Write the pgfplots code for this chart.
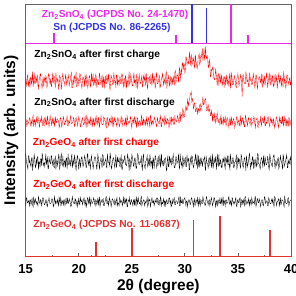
\documentclass[border=0pt]{standalone}
\usepackage{fontspec}
\setmainfont{Liberation Sans}
\usepackage{pgfplots}
\usepackage{pgfplotstable}
\pgfplotsset{compat=1.18}

\definecolor{refmag}{RGB}{235,40,235}
\definecolor{refblue}{RGB}{50,50,235}
\definecolor{refred}{RGB}{225,50,50}
\definecolor{framegray}{RGB}{100,100,100}
\newcommand\lab{\fontsize{10.2}{11}\selectfont\bfseries}

% XRD scans, offset for stacking:
% a = Zn2SnO4 after first charge, b = Zn2SnO4 after first discharge,
% c = Zn2GeO4 after first charge,  d = Zn2GeO4 after first discharge
\pgfplotstableread{
x a b c d
15.00 179 134 103 51
15.05 174 131 97 58
15.10 171 137 93 59
15.15 180 136 91 54
15.20 182 132 88 54
15.25 170 134 101 56
15.30 174 135 101 55
15.35 177 139 94 51
15.40 169 139 96 57
15.45 179 132 92 57
15.50 180 130 90 52
15.55 172 136 99 54
15.60 177 133 99 59
15.65 185 139 86 52
15.70 170 141 92 50
15.75 175 130 96 59
15.80 184 136 102 56
15.85 173 137 98 53
15.90 173 131 89 58
15.95 181 134 90 56
16.00 175 139 97 53
16.05 178 135 93 55
16.10 181 134 100 53
16.15 171 140 100 51
16.20 168 138 87 60
16.25 176 133 95 57
16.30 178 129 95 54
16.35 182 138 89 53
16.40 183 136 98 57
16.45 173 134 98 56
16.50 172 140 91 51
16.55 168 136 103 54
16.60 176 131 101 59
16.65 180 131 91 59
16.70 170 137 93 56
16.75 177 139 94 52
16.80 179 132 90 52
16.85 174 136 97 54
16.90 181 139 103 57
16.95 179 132 92 57
17.00 169 134 96 51
17.05 172 141 99 50
17.10 177 136 88 56
17.15 183 134 88 56
17.20 182 130 99 59
17.25 175 136 96 54
17.30 173 141 94 53
17.35 178 137 93 53
17.40 171 135 101 54
17.45 170 131 101 58
17.50 184 139 92 58
17.55 176 135 95 55
17.60 174 133 97 50
17.65 181 139 90 51
17.70 180 131 89 60
17.75 173 133 98 57
17.80 170 140 100 53
17.85 184 134 87 56
17.90 176 134 95 55
17.95 174 138 97 53
18.00 178 138 91 57
18.05 177 136 94 54
18.10 168 136 102 51
18.15 171 129 100 60
18.20 181 131 87 56
18.25 179 139 92 52
18.30 179 139 98 59
18.35 167 135 104 55
18.40 172 129 93 52
18.45 180 134 91 56
18.50 183 136 101 56
18.55 178 140 93 51
18.60 175 137 90 57
18.65 175 132 96 57
18.70 170 132 96 51
18.75 182 136 89 54
18.80 180 135 99 59
18.85 172 137 99 53
18.90 174 141 88 54
18.95 176 131 95 59
19.00 182 131 103 53
19.05 179 136 92 54
19.10 171 134 92 58
19.15 174 134 97 56
19.20 177 139 94 54
19.25 181 141 90 50
19.30 184 133 100 51
19.35 169 133 102 57
19.40 169 134 89 60
19.45 177 135 94 55
19.50 173 139 97 55
19.55 180 138 91 53
19.60 181 130 102 53
19.65 173 131 98 58
19.70 178 138 91 57
19.75 185 139 86 51
19.80 170 136 95 56
19.85 171 134 100 56
19.90 179 131 101 50
19.95 178 136 93 54
20.00 172 140 87 59
20.05 175 137 96 53
20.10 183 136 98 52
20.15 182 130 89 59
20.20 174 131 93 56
20.25 172 135 99 55
20.30 168 137 100 57
20.35 176 139 95 52
20.40 180 135 90 54
20.45 179 132 92 57
20.50 176 132 96 59
20.55 170 136 101 54
20.60 182 141 99 51
20.65 178 134 93 56
20.70 171 129 89 53
20.75 181 141 90 50
20.80 178 139 103 58
20.85 168 131 103 59
20.90 173 134 92 55
20.95 177 137 94 53
21.00 181 133 97 60
21.05 180 136 91 54
21.10 170 139 88 51
21.15 173 131 98 58
21.20 184 136 101 56
21.25 176 138 95 53
21.30 175 130 94 54
21.35 183 135 88 55
21.40 172 138 91 59
21.45 174 133 97 57
21.50 179 131 100 53
21.55 171 139 100 51
21.60 183 136 98 57
21.65 179 134 92 56
21.70 169 140 87 52
21.75 177 136 94 54
21.80 177 131 102 59
21.85 172 139 99 52
21.90 174 137 93 56
21.95 184 129 87 60
22.00 180 134 95 50
22.05 175 137 96 53
22.10 171 141 99 57
22.15 178 135 93 55
22.20 182 132 89 54
22.25 169 132 102 57
22.30 176 133 101 58
22.35 180 140 91 51
22.40 168 139 92 51
22.45 176 136 95 54
22.50 181 136 96 56
22.55 173 131 98 59
22.60 173 129 90 60
22.65 182 138 89 53
22.70 178 139 103 53
22.75 174 133 97 57
22.80 183 131 94 51
22.85 177 136 94 54
22.90 170 138 91 59
22.95 167 134 104 56
23.00 175 135 100 55
23.05 181 141 90 50
23.10 179 134 88 53
23.15 178 131 93 58
23.20 172 140 97 57
23.25 172 134 99 56
23.30 184 131 98 54
23.35 179 139 92 52
23.40 174 137 89 57
23.45 175 135 96 55
23.50 169 136 102 52
23.55 182 132 89 57
23.60 182 130 93 59
23.65 171 139 100 51
23.70 177 139 95 54
23.75 176 137 95 53
23.80 171 132 99 51
23.85 180 130 91 59
23.90 180 134 90 57
23.95 173 136 98 54
24.00 173 141 101 56
24.05 183 134 88 56
24.10 183 131 87 51
24.15 174 138 97 53
24.20 170 136 96 60
24.25 177 136 94 54
24.30 178 133 100 53
24.35 170 131 101 59
24.40 181 139 92 54
24.45 179 134 92 56
24.50 168 131 91 58
24.55 176 141 95 50
24.60 176 138 103 50
24.65 172 133 99 57
24.70 179 135 93 56
24.75 185 135 86 55
24.80 172 134 98 59
24.85 175 139 96 52
24.90 182 140 89 53
24.95 178 132 93 57
25.00 174 129 102 55
25.05 171 136 100 54
25.10 171 137 96 51
25.15 180 134 91 56
25.20 184 139 90 57
25.25 173 140 98 51
25.30 177 132 99 58
25.35 177 137 94 53
25.40 169 134 88 51
25.45 182 129 89 60
25.50 180 139 97 56
25.55 168 138 103 53
25.60 175 130 101 59
25.65 178 134 93 56
25.70 182 136 92 53
25.75 176 136 95 54
25.80 173 133 94 52
25.85 174 131 97 58
25.90 178 141 100 60
25.95 181 139 90 51
26.00 170 131 87 54
26.05 172 135 99 55
26.10 181 138 103 57
26.15 179 133 92 57
26.20 176 136 91 51
26.25 183 137 88 53
26.30 172 131 95 55
26.35 175 136 96 54
26.40 183 139 98 56
26.45 170 131 101 59
26.50 168 134 89 50
26.55 178 139 93 52
26.60 179 137 97 58
26.65 180 134 91 56
26.70 174 129 102 57
26.75 173 141 98 50
26.80 182 139 90 53
26.85 176 132 95 57
26.90 171 135 96 59
26.95 184 136 87 54
27.00 177 132 99 54
27.05 174 134 97 56
27.10 180 140 88 51
27.15 177 138 94 53
27.20 169 136 101 57
27.25 171 135 100 55
27.30 184 131 93 54
27.35 182 130 89 59
27.40 173 139 92 59
27.45 173 137 98 53
27.50 175 134 100 52
27.55 179 133 92 57
27.60 181 133 94 56
27.65 169 139 102 51
27.70 170 141 89 60
27.75 176 131 95 58
27.80 178 130 103 51
27.85 180 136 91 54
27.90 183 138 95 53
27.95 175 134 96 56
28.00 172 136 91 58
28.05 178 141 93 50
28.10 176 131 98 56
28.15 172 135 99 55
28.20 182 139 97 51
28.25 185 133 86 57
28.30 168 134 87 57
28.35 174 138 97 53
28.40 179 137 101 53
28.45 181 136 90 54
28.50 174 129 90 59
28.55 170 131 101 59
28.60 181 140 96 54
28.65 177 134 94 56
28.70 171 132 99 50
28.75 179 140 92 51
28.80 177 135 93 57
28.85 173 137 98 53
28.90 180 139 102 55
28.95 177 132 95 57
29.00 171 132 89 59
29.05 184 140 89 52
29.10 186 137 92 52
29.15 174 136 100 56
29.20 176 135 100 56
29.25 182 137 93 55
29.30 182 141 95 53
29.35 180 139 96 54
29.40 174 137 103 58
29.45 186 133 91 60
29.50 189 142 88 51
29.55 176 144 103 51
29.60 183 135 97 60
29.65 188 142 92 54
29.70 182 142 94 54
29.75 194 140 88 57
29.80 193 148 101 53
29.85 187 146 97 53
29.90 193 139 91 57
29.95 192 140 94 58
30.00 183 144 98 59
30.05 188 147 99 54
30.10 200 151 90 51
30.15 199 147 90 56
30.20 192 146 102 56
30.25 195 157 95 50
30.30 195 154 96 54
30.35 193 151 98 57
30.40 200 156 87 57
30.45 205 158 87 55
30.50 191 162 99 52
30.55 196 163 96 53
30.60 203 165 93 59
30.65 191 155 101 59
30.70 193 158 100 55
30.75 198 156 93 54
30.80 196 148 89 50
30.85 199 150 91 56
30.90 189 154 97 58
30.95 192 153 97 51
31.00 202 145 103 53
31.05 195 145 94 57
31.10 193 149 92 56
31.15 188 149 102 53
31.20 191 142 88 59
31.25 199 147 92 55
31.30 201 148 101 51
31.35 203 144 89 58
31.40 191 152 95 54
31.45 195 153 99 51
31.50 201 145 91 57
31.55 200 150 95 56
31.60 204 151 98 53
31.65 207 155 90 53
31.70 196 160 94 60
31.75 200 152 97 57
31.80 209 152 98 54
31.85 197 156 100 54
31.90 199 157 90 51
31.95 210 158 86 52
32.00 200 152 101 59
32.05 198 146 96 60
32.10 201 146 93 56
32.15 198 150 93 54
32.20 189 152 88 52
32.25 190 145 98 56
32.30 197 146 99 57
32.35 194 148 91 51
32.40 180 141 96 53
32.45 181 141 101 57
32.50 187 146 89 59
32.55 186 142 94 55
32.60 189 135 103 51
32.65 190 144 88 53
32.70 179 140 92 56
32.75 178 135 99 59
32.80 177 143 94 58
32.85 181 140 95 54
32.90 188 134 100 50
32.95 183 137 92 56
33.00 177 141 87 55
33.05 171 144 103 50
33.10 181 136 97 57
33.15 183 134 90 57
33.20 171 138 102 53
33.25 179 138 93 54
33.30 183 131 91 59
33.35 174 138 97 53
33.40 177 141 95 54
33.45 182 132 89 58
33.50 171 137 89 52
33.55 173 134 98 56
33.60 180 132 98 60
33.65 176 140 95 51
33.70 169 134 100 56
33.75 180 135 91 55
33.80 178 141 88 51
33.85 171 133 100 57
33.90 182 131 96 57
33.95 177 138 94 53
34.00 173 139 101 54
34.05 179 136 92 54
34.10 175 133 92 59
34.15 170 129 101 60
34.20 181 136 90 53
34.25 184 139 87 52
34.30 168 131 103 56
34.35 175 136 96 54
34.40 184 139 93 51
34.45 178 131 93 59
34.50 172 135 99 58
34.55 172 137 99 53
34.60 176 138 89 55
34.65 181 135 90 55
34.70 179 129 95 53
34.75 176 132 95 57
34.80 170 134 97 59
34.85 169 139 102 51
34.90 178 140 87 50
34.95 179 134 92 56
35.00 183 132 100 57
35.05 177 136 94 54
35.10 171 137 98 54
35.15 174 131 97 58
35.20 177 131 91 59
35.25 182 141 89 50
35.30 180 136 102 52
35.35 171 133 100 57
35.40 160 139 94 56
35.45 180 138 91 53
35.50 182 133 89 57
35.55 176 136 95 54
35.60 174 130 99 51
35.65 173 130 98 59
35.70 173 141 93 60
35.75 185 139 86 52
35.80 181 136 101 53
35.85 175 134 96 56
35.90 175 131 90 54
35.95 178 137 93 53
36.00 170 139 96 58
36.05 170 135 101 55
36.10 184 134 103 51
36.15 179 132 92 57
36.20 176 138 88 56
36.25 177 139 94 51
36.30 172 131 92 59
36.35 172 134 99 56
36.40 179 134 100 53
36.45 183 136 88 54
36.50 178 140 97 55
36.55 174 138 97 53
36.60 168 132 89 59
36.65 176 129 95 60
36.70 182 137 98 50
36.75 181 137 90 53
36.80 171 139 91 57
36.85 168 131 103 58
36.90 177 129 102 54
36.95 178 136 93 54
37.00 180 136 93 58
37.05 180 134 91 56
37.10 174 135 87 52
37.15 175 141 96 50
37.20 183 131 99 56
37.25 173 133 98 57
37.30 170 138 95 57
37.35 182 139 89 52
37.40 173 134 101 51
37.45 176 135 95 55
37.50 181 141 90 60
37.55 171 131 100 59
37.60 176 131 97 53
37.65 179 136 92 54
37.70 184 133 92 56
37.75 177 134 94 56
37.80 169 139 100 51
37.85 174 140 97 51
37.90 178 136 89 59
37.95 184 132 87 57
38.00 175 130 103 54
38.05 172 137 99 53
38.10 182 139 94 53
38.15 178 134 93 56
38.20 172 137 91 58
38.25 181 136 90 54
38.30 179 131 98 57
38.35 170 138 101 53
38.40 171 135 102 50
38.45 177 129 94 60
38.50 183 132 88 59
38.55 175 133 96 57
38.60 177 140 96 54
38.65 180 139 91 51
38.70 168 136 93 55
38.75 173 135 98 55
38.80 180 129 99 57
38.85 183 131 88 58
38.90 174 139 90 51
38.95 176 136 95 54
39.00 181 134 101 59
39.05 174 139 97 52
39.10 170 133 95 53
39.15 179 133 92 57
39.20 178 141 87 56
39.25 169 134 102 56
39.30 184 131 100 52
39.35 181 141 90 50
39.40 173 136 92 60
39.45 177 132 94 57
39.50 169 138 97 54
39.55 172 137 99 53
39.60 182 130 102 53
39.65 182 136 89 54
39.70 176 134 89 58
39.75 175 131 96 59
39.80 172 139 94 51
39.85 178 138 93 53
39.90 179 131 98 56
39.95 171 134 100 56
40.00 175 137 91 57
}\xrd

\begin{document}
\begin{tikzpicture}
\begin{axis}[
  set layers,
  scale only axis, width=265.3pt, height=252.7pt,
  xmin=15, xmax=40, ymin=0, ymax=252.7,
  clip=false,
  xtick={15,20,...,40}, minor x tick num=1, ytick=\empty,
  xtick pos=bottom, tick align=inside,
  major tick length=4pt, minor tick length=2pt,
  axis line style={framegray, line width=0.8pt},
  every tick/.style={framegray, line width=0.8pt},
  /pgf/number format/assume math mode=true,
  tick label style={font=\fontsize{13}{14}\selectfont\bfseries},
  xticklabel style={yshift=-4.5pt},
  xlabel={2θ (degree)}, ylabel={Intensity (arb. units)},
  label style={font=\fontsize{15.5}{17}\selectfont\bfseries},
  xlabel style={at={(axis description cs:0.5,-0.12)},anchor=center},
  ylabel style={at={(axis description cs:-0.0554,0.5)},anchor=center},
]
% measured scans
\addplot[red, line width=0.35pt] table[x=x,y=a]{\xrd};
\addplot[red, line width=0.35pt] table[x=x,y=b]{\xrd};
\addplot[black, line width=0.35pt] table[x=x,y=c]{\xrd};
\addplot[black, line width=0.35pt] table[x=x,y=d]{\xrd};

% standard patterns, top panel (baseline at 213.7)
\addplot[refmag, line width=0.9pt] coordinates {(15,213.7) (40,213.7)};
\addplot[refmag, line width=1.5pt, unbounded coords=jump] coordinates {
  (17.67,213.7) (17.67,223.7) (17.67,nan)
  (29.17,213.7) (29.17,221.7) (29.17,nan)
  (34.35,213.7) (34.35,252.7) (34.35,nan)
  (35.95,213.7) (35.95,221.7)};
\addplot[refblue, line width=1.5pt, unbounded coords=jump] coordinates {
  (30.65,213.7) (30.65,252.7) (30.65,nan)
  (32.02,213.7) (32.02,248.4)};

% Zn2GeO4 standard, bottom (baseline on the x axis)
\addplot[refred, line width=1.2pt, on layer=axis foreground] coordinates {(15,0) (40,0)};
\addplot[refred, ycomb, line width=1.5pt] coordinates {
  (21.2,1.7) (21.63,14.4) (25.02,28.4) (30.8,36.7) (33.29,40.7) (38.0,26.7)};

\node[anchor=west, inner sep=0pt, text=refmag, font=\lab] at (axis cs:16.5,241.7)
  {Zn\textsubscript{2}SnO\textsubscript{4} (JCPDS No. 24-1470)};
\node[anchor=west, inner sep=0pt, text=refblue, font=\lab] at (axis cs:17.58,228.7)
  {Sn (JCPDS No. 86-2265)};
\node[anchor=west, inner sep=0pt, text=black, font=\lab] at (axis cs:15.8,201.7)
  {Zn\textsubscript{2}SnO\textsubscript{4} after first charge};
\node[anchor=west, inner sep=0pt, text=black, font=\lab] at (axis cs:15.8,154)
  {Zn\textsubscript{2}SnO\textsubscript{4} after first discharge};
\node[anchor=west, inner sep=0pt, text=red, font=\lab] at (axis cs:15.65,113.7)
  {Zn\textsubscript{2}GeO\textsubscript{4} after first charge};
\node[anchor=west, inner sep=0pt, text=red, font=\lab] at (axis cs:15.7,71.7)
  {Zn\textsubscript{2}GeO\textsubscript{4} after first discharge};
\node[anchor=west, inner sep=0pt, text=refred, font=\lab] at (axis cs:15.7,31.7)
  {Zn\textsubscript{2}GeO\textsubscript{4} (JCPDS No. 11-0687)};
\end{axis}
\pgfresetboundingbox
\useasboundingbox ([shift={(-25.7pt,-39.3pt)}]current axis.south west)
  rectangle ([shift={(5pt,4pt)}]current axis.north east);
\end{tikzpicture}
\end{document}
